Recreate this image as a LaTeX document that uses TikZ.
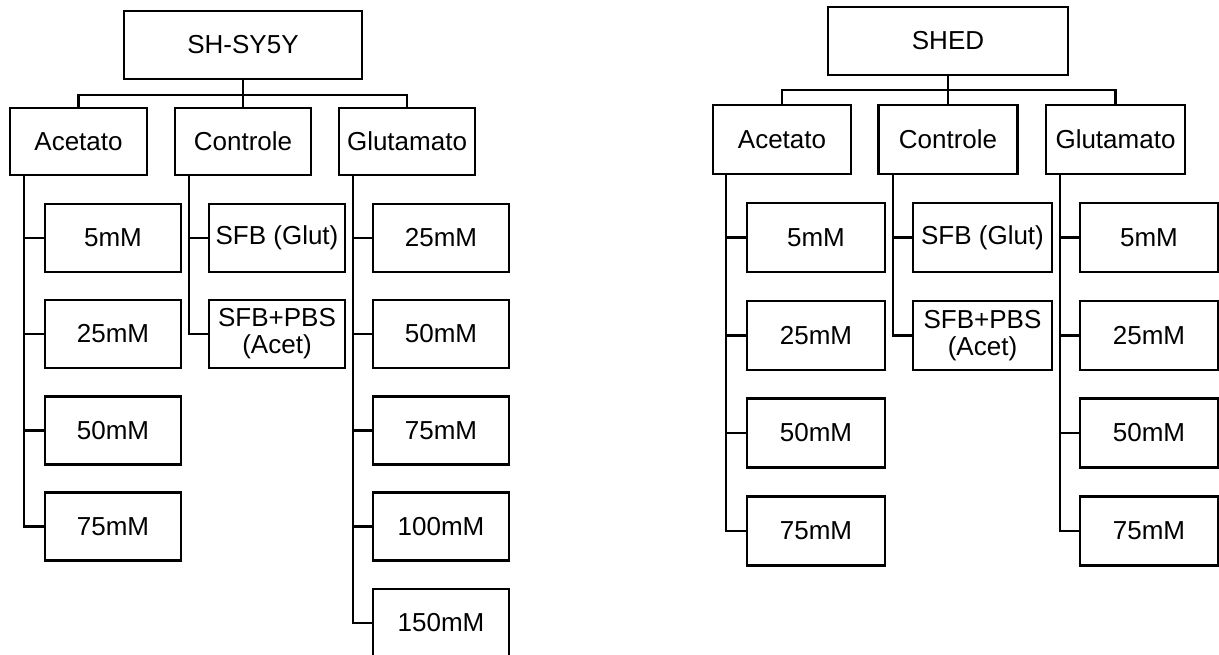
\documentclass[tikz,border=0pt]{standalone}
\usepackage{fontspec}
\setmainfont{Liberation Sans}
\begin{document}
\begin{tikzpicture}[x=1pt,y=-1pt,
  box/.style={draw,line width=2.8pt,rectangle,inner sep=0pt,align=center,
    font=\fontsize{26}{27}\selectfont},
  conn/.style={line width=2.8pt}]
\useasboundingbox (0,0) rectangle (1219,654);
\begin{scope}
\clip (0,0) rectangle (1219,654);
% ---------------- Left tree: SH-SY5Y ----------------
\node[box,minimum width=238pt,minimum height=68pt] (rL) at (243,45) {SH-SY5Y};
\node[box,minimum width=137pt,minimum height=67pt] (aL) at (78.5,141.5) {Acetato};
\node[box,minimum width=136pt,minimum height=67pt] (cL) at (243,141.5) {Controle};
\node[box,minimum width=136pt,minimum height=67pt] (gL) at (407,141.5) {Glutamato};
\coordinate (hL) at (243,95);
\draw[conn] (aL.north) -- (aL.north |- hL) -- (gL.north |- hL) -- (gL.north);
\draw[conn] (rL.south) -- (cL.north);
% Acetato leaves
\foreach \n/\y/\t in {1/238/5mM,2/334/25mM,3/430.5/50mM,4/526.5/75mM}
  \node[box,minimum width=136pt,minimum height=68pt] (aL\n) at (113,\y) {\t};
\coordinate (dAL) at (24,175);
\draw[conn] (dAL) |- (aL4.west);
\foreach \n in {1,2,3} \draw[conn] (aL\n.west) -- (aL\n.west -| dAL);
% Controle leaves
\node[box,minimum width=136pt,minimum height=68pt] (cL1) at (277,238) {SFB (Glut)};
\node[box,minimum width=136pt,minimum height=68pt] (cL2) at (277,334) {SFB+PBS\\(Acet)};
\coordinate (dCL) at (189,175);
\draw[conn] (dCL) |- (cL2.west);
\draw[conn] (cL1.west) -- (cL1.west -| dCL);
% Glutamato leaves
\foreach \n/\y/\t in {1/238/25mM,2/334/50mM,3/430.5/75mM,4/526.5/100mM,5/623/150mM}
  \node[box,minimum width=136pt,minimum height=68pt] (gL\n) at (441,\y) {\t};
\coordinate (dGL) at (353,175);
\draw[conn] (dGL) |- (gL5.west);
\foreach \n in {1,2,3,4} \draw[conn] (gL\n.west) -- (gL\n.west -| dGL);
% ---------------- Right tree: SHED ----------------
\node[box,minimum width=240pt,minimum height=68pt] (rR) at (948,41) {SHED};
\node[box,minimum width=138pt,minimum height=69pt] (aR) at (782,139.5) {Acetato};
\node[box,minimum width=139pt,minimum height=69pt] (cR) at (948,139.5) {Controle};
\node[box,minimum width=139pt,minimum height=69pt] (gR) at (1115.5,139.5) {Glutamato};
\coordinate (hR) at (948,90);
\draw[conn] (aR.north) -- (aR.north |- hR) -- (gR.north |- hR) -- (gR.north);
\draw[conn] (rR.south) -- (cR.north);
% Acetato leaves
\foreach \n/\y/\t in {1/237.5/5mM,2/335.5/25mM,3/433/50mM,4/531/75mM}
  \node[box,minimum width=138pt,minimum height=69pt] (aR\n) at (816,\y) {\t};
\coordinate (dAR) at (726,174);
\draw[conn] (dAR) |- (aR4.west);
\foreach \n in {1,2,3} \draw[conn] (aR\n.west) -- (aR\n.west -| dAR);
% Controle leaves
\node[box,minimum width=139pt,minimum height=69pt] (cR1) at (982.5,237.5) {SFB (Glut)};
\node[box,minimum width=139pt,minimum height=69pt] (cR2) at (982.5,335.5) {SFB+PBS\\(Acet)};
\coordinate (dCR) at (893,174);
\draw[conn] (dCR) |- (cR2.west);
\draw[conn] (cR1.west) -- (cR1.west -| dCR);
% Glutamato leaves
\foreach \n/\y/\t in {1/237.5/5mM,2/335.5/25mM,3/433/50mM,4/531/75mM}
  \node[box,minimum width=138pt,minimum height=69pt] (gR\n) at (1149,\y) {\t};
\coordinate (dGR) at (1060,174);
\draw[conn] (dGR) |- (gR4.west);
\foreach \n in {1,2,3} \draw[conn] (gR\n.west) -- (gR\n.west -| dGR);
\end{scope}
\end{tikzpicture}
\end{document}
